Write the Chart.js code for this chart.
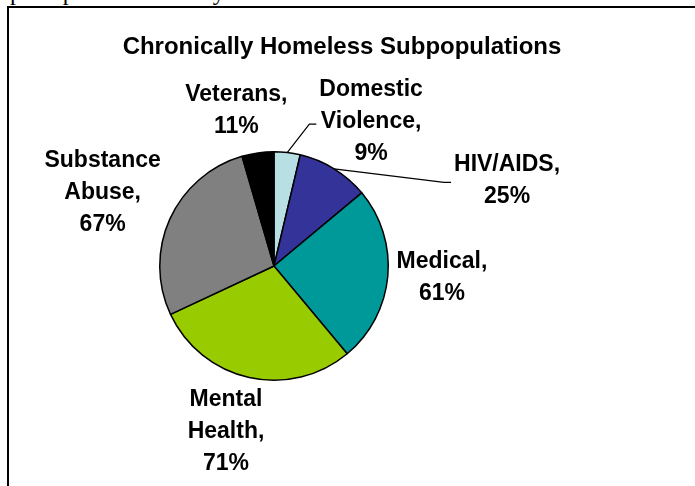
<!DOCTYPE html>
<html>
<head>
<meta charset="utf-8">
<script src="https://cdn.jsdelivr.net/npm/chart.js@4/dist/chart.umd.min.js"></script>
<style>
  html, body { margin: 0; padding: 0; background: #fff; }
  body { width: 695px; height: 486px; position: relative; overflow: hidden; }
  #topText {
    position: absolute; left: 10px; top: -20px;
    font-family: "Liberation Serif", "Times New Roman", serif;
    font-size: 24px; line-height: 24px; white-space: nowrap; color: #000;
  }
  #frame {
    position: absolute; left: 7px; top: 6px; width: 700px; height: 500px;
    border-left: 2px solid #000; border-top: 2px solid #000;
  }
  #chart { position: absolute; left: 0; top: 0; }
</style>
</head>
<body>
<div id="topText">prior part of this study</div>
<div id="frame"></div>
<canvas id="chart" width="695" height="486"></canvas>
<script>
// chart data
const categories = ['Domestic Violence', 'HIV/AIDS', 'Medical', 'Mental Health', 'Substance Abuse', 'Veterans'];
const percentValues = [9, 25, 61, 71, 67, 11];
const labelLines = [
    ['Domestic', 'Violence,', '9%'],
    ['HIV/AIDS,', '25%'],
    ['Medical,', '61%'],
    ['Mental', 'Health,', '71%'],
    ['Substance', 'Abuse,', '67%'],
    ['Veterans,', '11%']
];
const sliceColors = ['#B8E0E4', '#333399', '#009999', '#99CC00', '#808080', '#000000'];

// label block centres, in pie radii from the pie centre
const labelOffsets = [
    [0.85, -1.26],
    [2.04, -0.75],
    [1.47, 0.10],
    [-0.42, 1.45],
    [-1.50, -0.64],
    [-0.33, -1.36]
];
const leaderLines = [true, true, false, false, false, false];

const LABEL_FONT = 'bold 23px "Liberation Sans", Arial, sans-serif';
const LINE_HEIGHT = 32;

const labelPlugin = {
    id: 'pieLabels',
    afterDraw(chart) {
        const ctx = chart.ctx;
        const arcs = chart.getDatasetMeta(0).data;

        ctx.save();
        // title
        ctx.fillStyle = '#000';
        ctx.font = 'bold 24px "Liberation Sans", Arial, sans-serif';
        ctx.textAlign = 'center';
        ctx.textBaseline = 'middle';
        ctx.fillText('Chronically Homeless Subpopulations', 342, 47);

        ctx.font = LABEL_FONT;
        arcs.forEach((arc, i) => {
            const r = arc.outerRadius;
            const cx = arc.x + labelOffsets[i][0] * r;
            const cy = arc.y + labelOffsets[i][1] * r;
            const lines = labelLines[i];
            const top = cy - (lines.length - 1) * LINE_HEIGHT / 2;

            lines.forEach((line, j) => {
                ctx.fillText(line, cx, top + j * LINE_HEIGHT);
            });

            if (leaderLines[i]) {
                const mid = (arc.startAngle + arc.endAngle) / 2;
                const sx = arc.x + Math.cos(mid) * r;
                const sy = arc.y + Math.sin(mid) * r;
                const maxW = Math.max(...lines.map(l => ctx.measureText(l).width));
                const ex = cx - maxW / 2 - 3;
                const ey = cy + 2;
                ctx.beginPath();
                ctx.moveTo(sx, sy);
                ctx.lineTo(ex - 7, ey);
                ctx.lineTo(ex, ey);
                ctx.strokeStyle = '#000';
                ctx.lineWidth = 1.2;
                ctx.stroke();
            }
        });
        ctx.restore();
    }
};

new Chart(document.getElementById('chart'), {
    type: 'pie',
    data: {
        labels: categories,
        datasets: [{
            data: percentValues,
            backgroundColor: sliceColors,
            borderColor: '#000',
            borderWidth: 1.5
        }]
    },
    options: {
        responsive: false,
        animation: false,
        layout: {
            padding: { left: 159, top: 151, right: 306, bottom: 105 }
        },
        plugins: {
            legend: { display: false },
            tooltip: { enabled: false }
        }
    },
    plugins: [labelPlugin]
});
</script>
</body>
</html>
